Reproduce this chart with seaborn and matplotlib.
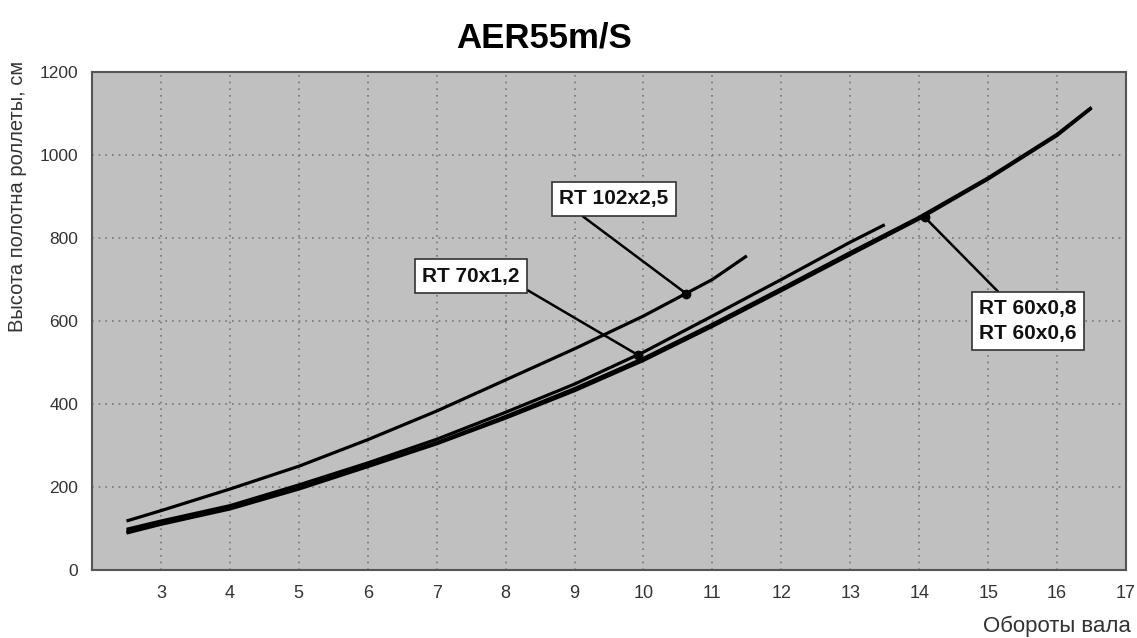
import matplotlib
matplotlib.use("Agg")
import matplotlib.pyplot as plt
from matplotlib import font_manager
import seaborn as sns
import pandas as pd

# ---- data ----
x_102 = [2.5, 3, 4, 5, 6, 7, 8, 9, 10, 11, 11.5]
y_102 = [118, 143, 195, 250, 314, 383, 458, 533, 612, 700, 757]

x_70 = [2.5, 3, 4, 5, 6, 7, 8, 9, 10, 11, 12, 13, 13.5]
y_70 = [98, 118, 155, 205, 258, 315, 380, 448, 525, 612, 700, 790, 832]

x_60 = [2.5, 3, 4, 5, 6, 7, 8, 9, 10, 11, 12, 13, 14, 15, 16, 16.5]
y_60a = [92, 113, 150, 198, 252, 307, 370, 437, 510, 592, 678, 765, 850, 945, 1050, 1115]
y_60b = [89, 110, 147, 195, 249, 304, 366, 432, 505, 587, 673, 760, 846, 942, 1047, 1113]

series_names = ["RT 102x2,5", "RT 70x1,2", "RT 60x0,8", "RT 60x0,6"]

labels = ["RT 102x2,5", "RT 70x1,2", "RT 60x0,8\nRT 60x0,6"]
label_points = [(10.62, 666), (9.92, 518), (14.08, 850)]
label_text_pos = [(9.57, 894), (7.5, 708), (15.58, 600)]

x_ticks = list(range(2, 18))
x_tick_labels = [""] + [str(v) for v in range(3, 18)]
y_ticks = [0, 200, 400, 600, 800, 1000, 1200]

title = "AER55m/S"
xlabel = "Обороты вала"
ylabel = "Высота полотна роллеты, см"

# ---- build frame ----
frames = []
for name, xs, ys in zip(series_names, [x_102, x_70, x_60, x_60], [y_102, y_70, y_60a, y_60b]):
    frames.append(pd.DataFrame({"x": xs, "y": ys, "series": name}))
df = pd.concat(frames, ignore_index=True)

available = {f.name for f in font_manager.fontManager.ttflist}
narrow = "Liberation Sans Narrow" if "Liberation Sans Narrow" in available else "Liberation Sans"
regular = ["Liberation Sans", "DejaVu Sans"]

sns.set_style("white")
plt.rcParams["font.family"] = [narrow, "DejaVu Sans"]

fig = plt.figure(figsize=(11.37, 6.38), dpi=100)
ax = fig.add_axes([92 / 1137, 1 - 570 / 638, (1126 - 92) / 1137, (570 - 72) / 638])
ax.set_facecolor("#c0c0c0")

sns.lineplot(data=df, x="x", y="y", hue="series", palette=["black"] * 4,
             linewidth=2.3, legend=False, ax=ax, sort=False, zorder=3)
for ln in ax.lines:
    ln.set_solid_joinstyle("round")
    ln.set_solid_capstyle("butt")

ax.set_xlim(2, 17)
ax.set_ylim(0, 1200)
ax.set_xticks(x_ticks)
ax.set_xticklabels(x_tick_labels)
ax.set_yticks(y_ticks)
ax.grid(True, linestyle=(0, (1, 3)), color="#777777", linewidth=1.2, zorder=0)
ax.set_axisbelow(True)
ax.tick_params(axis="both", labelsize=13, colors="#333333", length=4, direction="out",
               width=0.8)
ax.tick_params(axis="y", pad=6)
ax.tick_params(axis="x", pad=7)
for lbl in ax.get_yticklabels():
    lbl.set_family(regular)
    lbl.set_fontsize(12.5)
for sp in ax.spines.values():
    sp.set_color("#555555")
    sp.set_linewidth(1.5)
ax.set_xlabel("")
ax.set_ylabel("")

# annotations
relpos_list = [(0.12, 0.0), (1.0, 0.0), (0.27, 1.0)]
for lab, pt, tp, rp in zip(labels, label_points, label_text_pos, relpos_list):
    ax.plot([pt[0]], [pt[1]], "o", color="black", markersize=6, zorder=5)
    ax.annotate(lab, xy=pt, xytext=tp, textcoords="data", ha="center", va="center",
                fontsize=15, fontweight="bold", color="#111111", linespacing=1.35,
                bbox=dict(boxstyle="square,pad=0.35", fc="white", ec="#333333", lw=1.2),
                arrowprops=dict(arrowstyle="-", color="black", lw=1.8, relpos=rp,
                                shrinkA=0, shrinkB=0),
                zorder=6)

fig.text(544 / 1137, 1 - 38 / 638, title, ha="center", va="center",
         fontsize=25, fontweight="bold", color="black", family=regular)
fig.text(18 / 1137, 1 - 196 / 638, ylabel, rotation=90, ha="center", va="center",
         fontsize=14.5, color="#333333", family=regular)
fig.text(1131 / 1137, 1 - 626 / 638, xlabel, ha="right", va="center",
         fontsize=16, color="#333333", family=regular)

fig.savefig("out.png", dpi=100)
